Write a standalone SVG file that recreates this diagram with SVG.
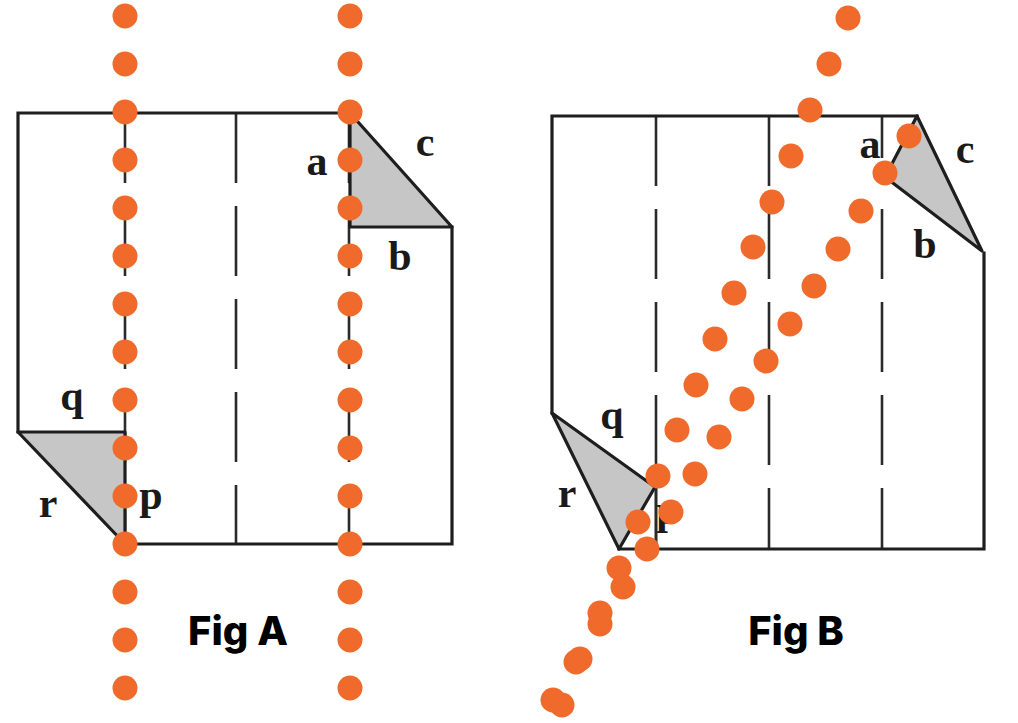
<svg xmlns="http://www.w3.org/2000/svg" width="1018" height="723" viewBox="0 0 1018 723">
  <style>
    .edge { fill: none; stroke: #1e1e1e; stroke-width: 3.2; stroke-linejoin: miter; stroke-linecap: square; }
    .fold { fill: #c6c6c6; stroke: #1e1e1e; stroke-width: 3.2; stroke-linejoin: round; }
    .dash { fill: none; stroke: #2a2a2a; stroke-width: 2.6; stroke-dasharray: 70 23; }
    .solid { fill: none; stroke: #2a2a2a; stroke-width: 2.6; }
    .lbl { font-family: "Liberation Serif", "Times New Roman", serif; font-weight: 700; font-size: 42px; fill: #1a1a1a; text-anchor: middle; }
    .cap { font-family: "Inter", "Open Sans", "Liberation Sans", sans-serif; font-weight: 800; font-size: 40px; fill: #000; text-anchor: middle; }
    .dot { fill: #EF6A2B; }
  </style>
  <defs>
    <circle id="d" r="12.5" class="dot"/>
  </defs>
  <rect width="1018" height="723" fill="#ffffff"/>

  <g id="fig-a">
    <line class="dash" x1="125" y1="113" x2="125" y2="544"/>
    <line class="dash" x1="236" y1="113" x2="236" y2="544"/>
    <line class="dash" x1="349" y1="113" x2="349" y2="544"/>
    <polygon class="fold" points="350,113 452,227 350,227"/>
    <polygon class="fold" points="18,432 125,432 125,544"/>
    <path class="edge" d="M125,544 L452,544 L452,227 M350,113 L18,113 L18,432"/>
    <text class="lbl" x="317" y="175">a</text>
    <text class="lbl" x="425" y="156">c</text>
    <text class="lbl" x="400" y="270">b</text>
    <text class="lbl" x="72" y="410">q</text>
    <text class="lbl" x="48" y="517">r</text>
    <text class="lbl" x="151" y="509">p</text>
    <text class="cap" x="238" y="645">Fig A</text>
  </g>

  <g id="fig-b">
    <line class="dash" x1="656" y1="116" x2="656" y2="549"/>
    <line class="dash" x1="769" y1="116" x2="769" y2="549"/>
    <line class="solid" x1="882" y1="116" x2="882" y2="158"/>
    <line class="dash" x1="882" y1="209" x2="882" y2="549"/>
    <polygon class="fold" points="917,116 982,251 885,177"/>
    <polygon class="fold" points="552,413 655,487 619,549"/>
    <line class="solid" x1="656" y1="487" x2="656" y2="549"/>
    <path class="edge" d="M552,413 L552,116 L917,116 M984,253 L984,549 L619,549"/>
    <text class="lbl" x="870" y="158">a</text>
    <text class="lbl" x="965" y="163">c</text>
    <text class="lbl" x="925" y="258">b</text>
    <text class="lbl" x="612" y="429">q</text>
    <text class="lbl" x="567" y="507">r</text>
    <text class="lbl" x="668" y="524">p</text>
    <text class="cap" x="796" y="645">Fig B</text>
  </g>

  <g id="dots-a-left">
    <use href="#d" x="125" y="16"/><use href="#d" x="125" y="64"/><use href="#d" x="125" y="112"/>
    <use href="#d" x="125" y="160"/><use href="#d" x="125" y="208"/><use href="#d" x="125" y="256"/>
    <use href="#d" x="125" y="304"/><use href="#d" x="125" y="352"/><use href="#d" x="125" y="400"/>
    <use href="#d" x="125" y="448"/><use href="#d" x="125" y="496"/><use href="#d" x="125" y="544"/>
    <use href="#d" x="125" y="592"/><use href="#d" x="125" y="640"/><use href="#d" x="125" y="688"/>
  </g>
  <g id="dots-a-right">
    <use href="#d" x="350" y="16"/><use href="#d" x="350" y="64"/><use href="#d" x="350" y="112"/>
    <use href="#d" x="350" y="160"/><use href="#d" x="350" y="208"/><use href="#d" x="350" y="256"/>
    <use href="#d" x="350" y="304"/><use href="#d" x="350" y="352"/><use href="#d" x="350" y="400"/>
    <use href="#d" x="350" y="448"/><use href="#d" x="350" y="496"/><use href="#d" x="350" y="544"/>
    <use href="#d" x="350" y="592"/><use href="#d" x="350" y="640"/><use href="#d" x="350" y="688"/>
  </g>
  <g id="dots-b-upper">
    <use href="#d" x="848" y="18"/><use href="#d" x="829" y="64"/><use href="#d" x="810" y="110"/>
    <use href="#d" x="791" y="156"/><use href="#d" x="772" y="202"/><use href="#d" x="753" y="247"/>
    <use href="#d" x="734" y="293"/><use href="#d" x="715" y="339"/><use href="#d" x="696" y="385"/>
    <use href="#d" x="677" y="430"/><use href="#d" x="658" y="476"/><use href="#d" x="638" y="522"/>
    <use href="#d" x="619" y="568"/><use href="#d" x="600" y="613"/><use href="#d" x="580" y="659"/>
    <use href="#d" x="562" y="705"/>
  </g>
  <g id="dots-b-lower">
    <use href="#d" x="909" y="136"/><use href="#d" x="885" y="173"/><use href="#d" x="861" y="211"/>
    <use href="#d" x="838" y="249"/><use href="#d" x="814" y="286"/><use href="#d" x="790" y="324"/>
    <use href="#d" x="766" y="361"/><use href="#d" x="742" y="399"/><use href="#d" x="719" y="437"/>
    <use href="#d" x="695" y="474"/><use href="#d" x="671" y="512"/><use href="#d" x="647" y="549"/>
    <use href="#d" x="623" y="587"/><use href="#d" x="600" y="624"/><use href="#d" x="576" y="662"/>
    <use href="#d" x="553" y="700"/>
  </g>
</svg>
